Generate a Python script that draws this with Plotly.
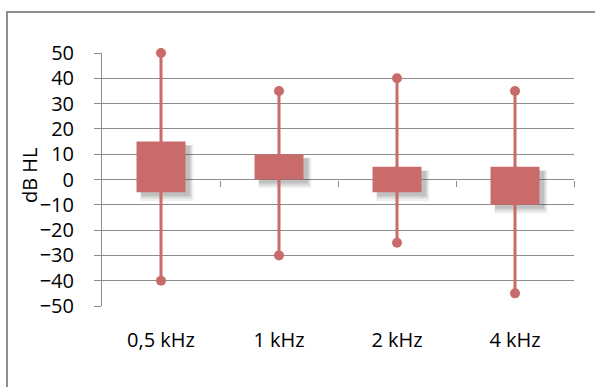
import plotly.graph_objects as go

categories = ["0,5 kHz", "1 kHz", "2 kHz", "4 kHz"]
box_low = [-5, 0, -5, -10]
box_high = [15, 10, 5, 5]
whisker_low = [-40, -30, -25, -45]
whisker_high = [50, 35, 40, 35]
y_ticks = [-50, -40, -30, -20, -10, 0, 10, 20, 30, 40, 50]

COLOR = "#C96B6A"
GRID = "#8C8C8C"
FONT = "Open Sans"

xs = list(range(len(categories)))
bar_w = 0.415

fig = go.Figure()

# invisible trace on the base axis (category separator ticks on the zero line)
fig.add_trace(go.Scatter(x=[0], y=[0], xaxis="x", mode="markers",
                         marker=dict(opacity=0), showlegend=False, hoverinfo="skip"))

# soft shadow layers
for dx, dy, op, grow in [(0.05, 2.4, 0.08, 0.035), (0.045, 2.0, 0.12, 0.018), (0.04, 1.6, 0.16, 0.0)]:
    fig.add_trace(go.Bar(
        x=xs, y=[h - l + grow * 60 for h, l in zip(box_high, box_low)],
        base=[l - dy - grow * 30 for l in box_low],
        width=bar_w + grow, offset=-bar_w / 2 + dx - grow / 2, xaxis="x2",
        marker=dict(color=f"rgba(60,60,60,{op})", line=dict(width=0)),
        hoverinfo="skip", showlegend=False,
    ))

# whiskers
for i in xs:
    fig.add_trace(go.Scatter(
        x=[i, i], y=[whisker_low[i], whisker_high[i]], xaxis="x2",
        mode="lines+markers", cliponaxis=False,
        line=dict(color=COLOR, width=3),
        marker=dict(color=COLOR, size=10),
        showlegend=False, hoverinfo="skip",
    ))

fig.add_trace(go.Bar(
    x=xs, y=[h - l for h, l in zip(box_high, box_low)], base=box_low, xaxis="x2",
    width=bar_w, marker=dict(color=COLOR, line=dict(width=0)),
    showlegend=False, hoverinfo="skip",
))

L, R, T, B = 102, 21, 53, 81
W, H = 595, 387
pw, ph = W - L - R, H - T - B

fig.update_layout(
    width=W, height=H,
    margin=dict(l=L, r=R, t=T, b=B, pad=0),
    plot_bgcolor="white", paper_bgcolor="white",
    barmode="overlay",
    font=dict(family=FONT, size=20, color="#000000"),
    xaxis=dict(
        range=[-0.5, 3.5], anchor="free", position=0.5,
        tickvals=[0.5, 1.5, 2.5, 3.5], ticks="outside", ticklen=6,
        tickcolor=GRID, tickwidth=1, showticklabels=False,
        showline=False, showgrid=False, zeroline=False,
    ),
    xaxis2=dict(
        matches="x", overlaying="x", anchor="y", side="bottom",
        tickvals=xs, ticktext=categories,
        showgrid=False, zeroline=False, showline=False, ticks="",
        ticklabelstandoff=20, tickfont=dict(size=20, family=FONT),
    ),
    yaxis=dict(
        range=[-50, 50], tickvals=y_ticks, showgrid=True, gridcolor=GRID, gridwidth=1,
        zeroline=False, showline=True, linecolor=GRID, linewidth=1,
        ticks="outside", ticklen=7, tickcolor=GRID, tickwidth=1,
        ticklabelstandoff=16, tickfont=dict(size=20, family=FONT),
    ),
    annotations=[dict(
        text="dB HL", textangle=-90, xref="paper", yref="paper",
        x=(29 - L) / pw, y=(H - B - 175) / ph, showarrow=False,
        font=dict(size=20, family=FONT), xanchor="center", yanchor="middle",
    )],
    shapes=[dict(
        type="rect", xref="paper", yref="paper",
        x0=(7 - L) / pw, x1=(W + 20 - L) / pw,
        y0=-(B + 20) / ph, y1=(H - B - 12) / ph,
        line=dict(color="#8F8F8F", width=2), fillcolor="rgba(0,0,0,0)", layer="below",
    )],
)

fig.write_html("out.html", config={"displayModeBar": False},
               post_script="document.body.style.margin='0';")
